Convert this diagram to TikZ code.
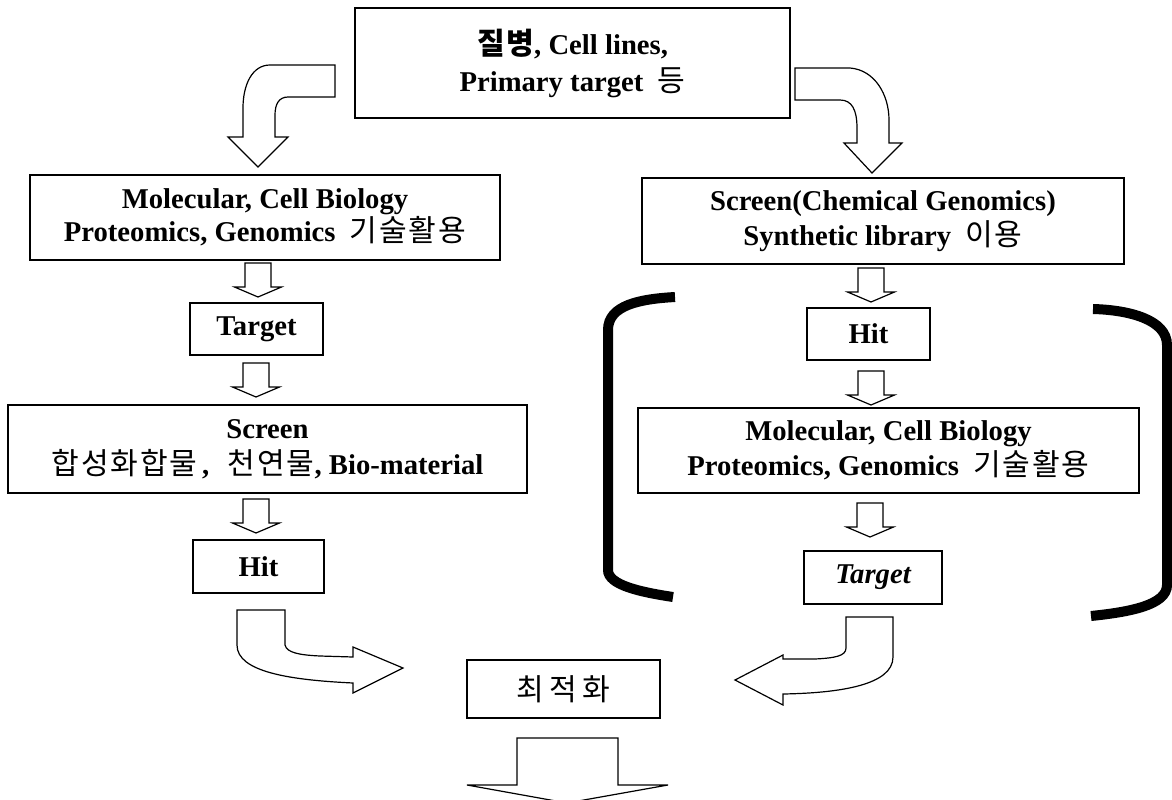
\documentclass[tikz,border=0pt]{standalone}
\usepackage{fontspec}
\setmainfont{Liberation Serif}
\newfontfamily\kr[Scale=1.05,LetterSpace=6]{Noto Sans CJK KR}
\newcommand\kor[1]{{\kr\mdseries #1}}
\newcommand\dnarr[2]{%
  \draw[blk] ({#1-13},{#2}) -- ({#1-13},{#2+24}) -- ({#1-23.5},{#2+24}) -- ({#1},{#2+34}) -- ({#1+23.5},{#2+24}) -- ({#1+13},{#2+24}) -- ({#1+13},{#2}) -- cycle;}
\begin{document}
\begin{tikzpicture}[x=0.75pt,y=-0.75pt,
  bx/.style 2 args={draw, line width=1.1pt, rectangle, minimum width={#1*0.75pt}, minimum height={#2*0.75pt}, inner sep=0pt, align=center},
  ls/.style={font={\fontsize{21.5}{#1}\selectfont\bfseries}},
  blk/.style={draw, line width=0.9pt, fill=white, line join=miter},
  brk/.style={line width=7.5pt}]
\useasboundingbox (0,0) rectangle (1172,800);

% boxes
\node[bx={435}{110}, ls=27.75] (top) at (572.5,63) {{\kr 질병}, Cell lines,\\Primary target~~\kor{등}};
\node[bx={470}{85}, ls=19.5] (ml) at (265,217.5) {Molecular, Cell Biology\\Proteomics, Genomics~~\kor{기술활용}};
\node[bx={133}{52}, ls=24] (tl) at (256.5,329) {Target};
\node[bx={519}{88}, ls=27] (sl) at (267.5,449) {Screen\\\kor{합성화합물}\,,\hspace{14pt}\kor{천연물}, Bio-material};
\node[bx={131}{53}, ls=24] (hl) at (258.5,566.5) {Hit};
\node[bx={193}{58}, ls=24] (opt) at (563.5,689) {\kor{최\,적\,화}};
\node[bx={482}{86}, ls=26.25] (sr) at (883,221) {Screen(Chemical Genomics)\\Synthetic library~~\kor{이용}};
\node[bx={123}{52}, ls=24] (hr) at (868.5,334) {Hit};
\node[bx={501}{85}, ls=26.25] (mr) at (888.5,450.5) {Molecular, Cell Biology\\Proteomics, Genomics~~\kor{기술활용}};
\node[bx={138}{53}, ls=24] (tr) at (873,577.5) {\itshape Target};

% brackets
\draw[brk] (675,297) .. controls (640,299) and (608,305) .. (608,330) -- (608,570) .. controls (608,585) and (640,592) .. (673,597);
\draw[brk] (1093,309) .. controls (1130,310) and (1167,320) .. (1167,345) -- (1167,585) .. controls (1167,605) and (1130,612) .. (1091,616);

% top curved arrows
\draw[blk] (335,65) -- (270,65) .. controls (252,65) and (243,85) .. (243,108) -- (243,137) -- (228,137) -- (258,167) -- (288,137) -- (275,137) -- (275,115) .. controls (275,104) and (279,97) .. (288,97) -- (335,97) -- cycle;
\draw[blk] (795,68) -- (850,68) .. controls (875,70) and (889,95) .. (889,120) -- (889,143) -- (902,143) -- (872,173) -- (844,143) -- (857,143) -- (857,128) .. controls (857,110) and (852,100) .. (840,100) -- (795,100) -- cycle;

% small down arrows
\dnarr{258}{263}
\dnarr{256}{363}
\dnarr{256}{499}
\dnarr{871}{268}
\dnarr{871}{371}
\dnarr{870}{503}

% bottom curved arrows
\draw[blk] (237,610) -- (285,610) -- (285,645) .. controls (287,653) and (300,655) .. (320,656) -- (353,657) -- (353,647) -- (403,668) -- (353,693) -- (353,683) .. controls (290,680) and (237,672) .. (237,645) -- cycle;
\draw[blk] (846,617) -- (893,617) -- (893,657) .. controls (893,685) and (840,693) .. (783,694) -- (783,705) -- (735,680) -- (783,655) -- (783,659) -- (815,659) .. controls (835,658) and (846,656) .. (846,648) -- cycle;

% bottom arrow
\draw[blk] (517,738) -- (618,738) -- (618,785) -- (668,785) -- (567,803) -- (467,785) -- (517,785) -- cycle;
\end{tikzpicture}
\end{document}
